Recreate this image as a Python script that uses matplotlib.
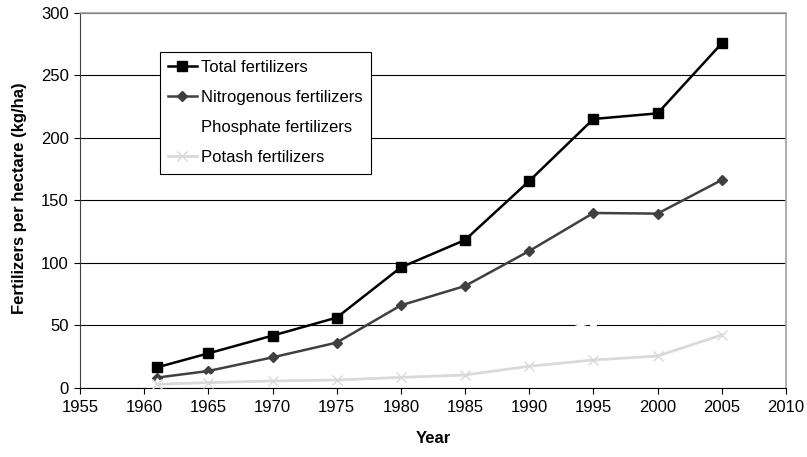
import matplotlib
matplotlib.use("Agg")
import matplotlib.pyplot as plt

# fertilizer use per hectare
years = [1961, 1965, 1970, 1975, 1980, 1985, 1990, 1995, 2000, 2005]
total = [16.5, 27.7, 41.9, 56.3, 96.5, 118.4, 165.6, 215.2, 219.7, 275.7]
nitrogen = [8.3, 13.6, 24.5, 36.3, 66.1, 81.6, 109.6, 140.0, 139.5, 166.4]
phosphate = [5.2, 9.8, 11.8, 13.6, 21.9, 26.4, 38.6, 52.8, 54.6, 66.9]
potash = [3.0, 4.3, 5.6, 6.4, 8.5, 10.4, 17.4, 22.4, 25.6, 42.4]

x_ticks = list(range(1955, 2011, 5))
y_ticks = list(range(0, 301, 50))

plt.rcParams["font.family"] = ["Liberation Sans", "DejaVu Sans"]

fig = plt.figure(figsize=(8.07, 4.57), dpi=100)
ax = fig.add_axes([0.0991, 0.151, 0.8748, 0.8206])

ax.plot(years, total, color="black", lw=1.8, marker="s", ms=6.5,
        mfc="black", mec="black", label="Total fertilizers", zorder=3)
ax.plot(years, nitrogen, color="#404040", lw=1.8, marker="D", ms=5.3,
        mfc="#404040", mec="#404040", label="Nitrogenous fertilizers", zorder=4)
ax.plot(years, phosphate, color="white", lw=1.8, marker="^", ms=5,
        mfc="white", mec="white", label="Phosphate fertilizers", zorder=5)
ax.plot(years, potash, color="#d9d9d9", lw=2.0, marker="x", ms=6.5,
        mew=1.0, label="Potash fertilizers", zorder=6)

ax.set_xlim(1955, 2010)
ax.set_ylim(0, 300)
ax.set_xticks(x_ticks)
ax.set_yticks(y_ticks)
ax.yaxis.grid(True, color="black", lw=0.8)
ax.set_axisbelow(True)

ax.tick_params(direction="out", length=4, width=0.8, labelsize=12, color="black")
ax.tick_params(axis="x", pad=5)
ax.tick_params(axis="y", pad=4)
for side in ["top", "right"]:
    ax.spines[side].set_color("#a0a0a0")
    ax.spines[side].set_linewidth(1.2)
ax.spines["left"].set_color("#404040")
ax.spines["bottom"].set_color("black")

ax.set_xlabel("Year", fontsize=12, fontweight="bold")
ax.set_ylabel("Fertilizers per hectare (kg/ha)", fontsize=12, fontweight="bold")
ax.xaxis.set_label_coords(0.5, -0.115)
ax.yaxis.set_label_coords(-0.075, 0.505)

leg = ax.legend(loc="upper left", bbox_to_anchor=(0.1133, 0.896), borderaxespad=0,
                fontsize=12, frameon=True, fancybox=False, edgecolor="black",
                framealpha=1, handlelength=1.7, handletextpad=0.25,
                labelspacing=0.9, borderpad=0.5)
leg.get_frame().set_linewidth(0.8)

plt.savefig("out.png", dpi=100)
